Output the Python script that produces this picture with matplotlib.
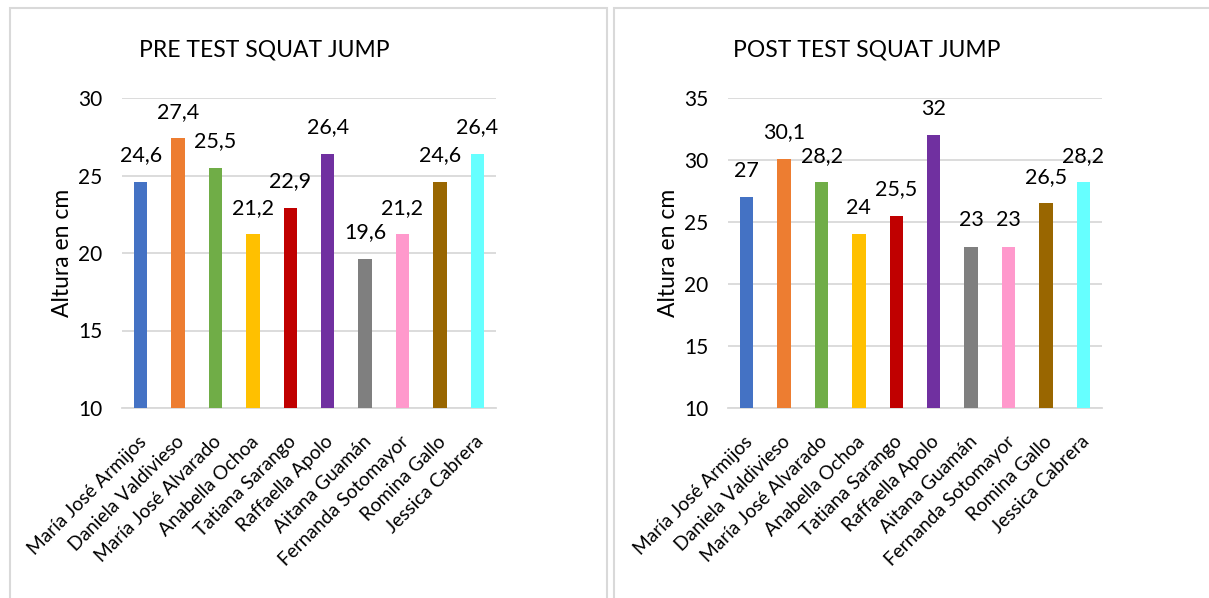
import matplotlib.pyplot as plt
from matplotlib.patches import Rectangle
from matplotlib.transforms import ScaledTranslation

plt.rcParams["font.family"] = ["Lato", "DejaVu Sans"]

names = [
    "María José Armijos", "Daniela Valdivieso", "María José Alvarado",
    "Anabella Ochoa", "Tatiana Sarango", "Raffaella Apolo", "Aitana Guamán",
    "Fernanda Sotomayor", "Romina Gallo", "Jessica Cabrera",
]
pre_values = [24.6, 27.4, 25.5, 21.2, 22.9, 26.4, 19.6, 21.2, 24.6, 26.4]
post_values = [27, 30.1, 28.2, 24, 25.5, 32, 23, 23, 26.5, 28.2]
colors = ["#4472C4", "#ED7D31", "#70AD47", "#FFC000", "#C00000",
          "#7030A0", "#7F7F7F", "#FF99CC", "#996600", "#66FFFF"]

W, H = 1209, 598
fig = plt.figure(figsize=(W / 100, H / 100), dpi=100)

# panel borders like the spreadsheet chart frames
for x0, x1 in [(10, 607), (614, 1215)]:
    fig.patches.append(Rectangle((x0 / W, -0.1), (x1 - x0) / W, 1.1 - 8 / H,
                                 transform=fig.transFigure, fill=False,
                                 edgecolor="#d9d9d9", linewidth=1.5))


def draw_panel(rect, values, title, ymax, title_x):
    ax = fig.add_axes(rect)
    x = range(len(names))
    ax.bar(x, values, width=0.36, color=colors, zorder=3)
    ax.set_ylim(10, ymax)
    ax.set_xlim(-0.5, len(names) - 0.5)
    ax.set_yticks(range(10, ymax + 1, 5))
    ax.grid(axis="y", color="#d9d9d9", linewidth=1.3, zorder=0)
    for s in ["top", "right", "left"]:
        ax.spines[s].set_visible(False)
    ax.spines["bottom"].set_color("#d9d9d9")
    ax.spines["bottom"].set_linewidth(1.3)
    ax.tick_params(length=0, labelsize=15, colors="#000000")
    ax.tick_params(axis="y", pad=14)
    ax.tick_params(axis="x", pad=8)
    ax.set_xticks(list(x))
    ax.set_xticklabels(names, rotation=45, ha="right", rotation_mode="anchor", fontsize=13.8)
    shift = ScaledTranslation(-3 / 100, -14 / 100, fig.dpi_scale_trans)
    for lbl in ax.get_xticklabels():
        lbl.set_transform(lbl.get_transform() + shift)
    ax.set_ylabel("Altura en cm", fontsize=16.5, labelpad=4)
    for i, v in enumerate(values):
        ax.annotate(f"{v:g}".replace(".", ","), (i, v), xytext=(0, 12),
                    textcoords="offset points", ha="center", va="bottom", fontsize=15.5)
    fig.text(title_x, 1 - 50 / H, title, ha="center", va="center", fontsize=16.5)
    return ax


draw_panel([122 / W, 1 - 408 / H, 374 / W, 310 / H], pre_values,
           "PRE TEST SQUAT JUMP", 30, 264 / W)
draw_panel([728 / W, 1 - 408 / H, 374 / W, 310 / H], post_values,
           "POST TEST SQUAT JUMP", 35, 867 / W)

fig.savefig("out.png", dpi=100)
